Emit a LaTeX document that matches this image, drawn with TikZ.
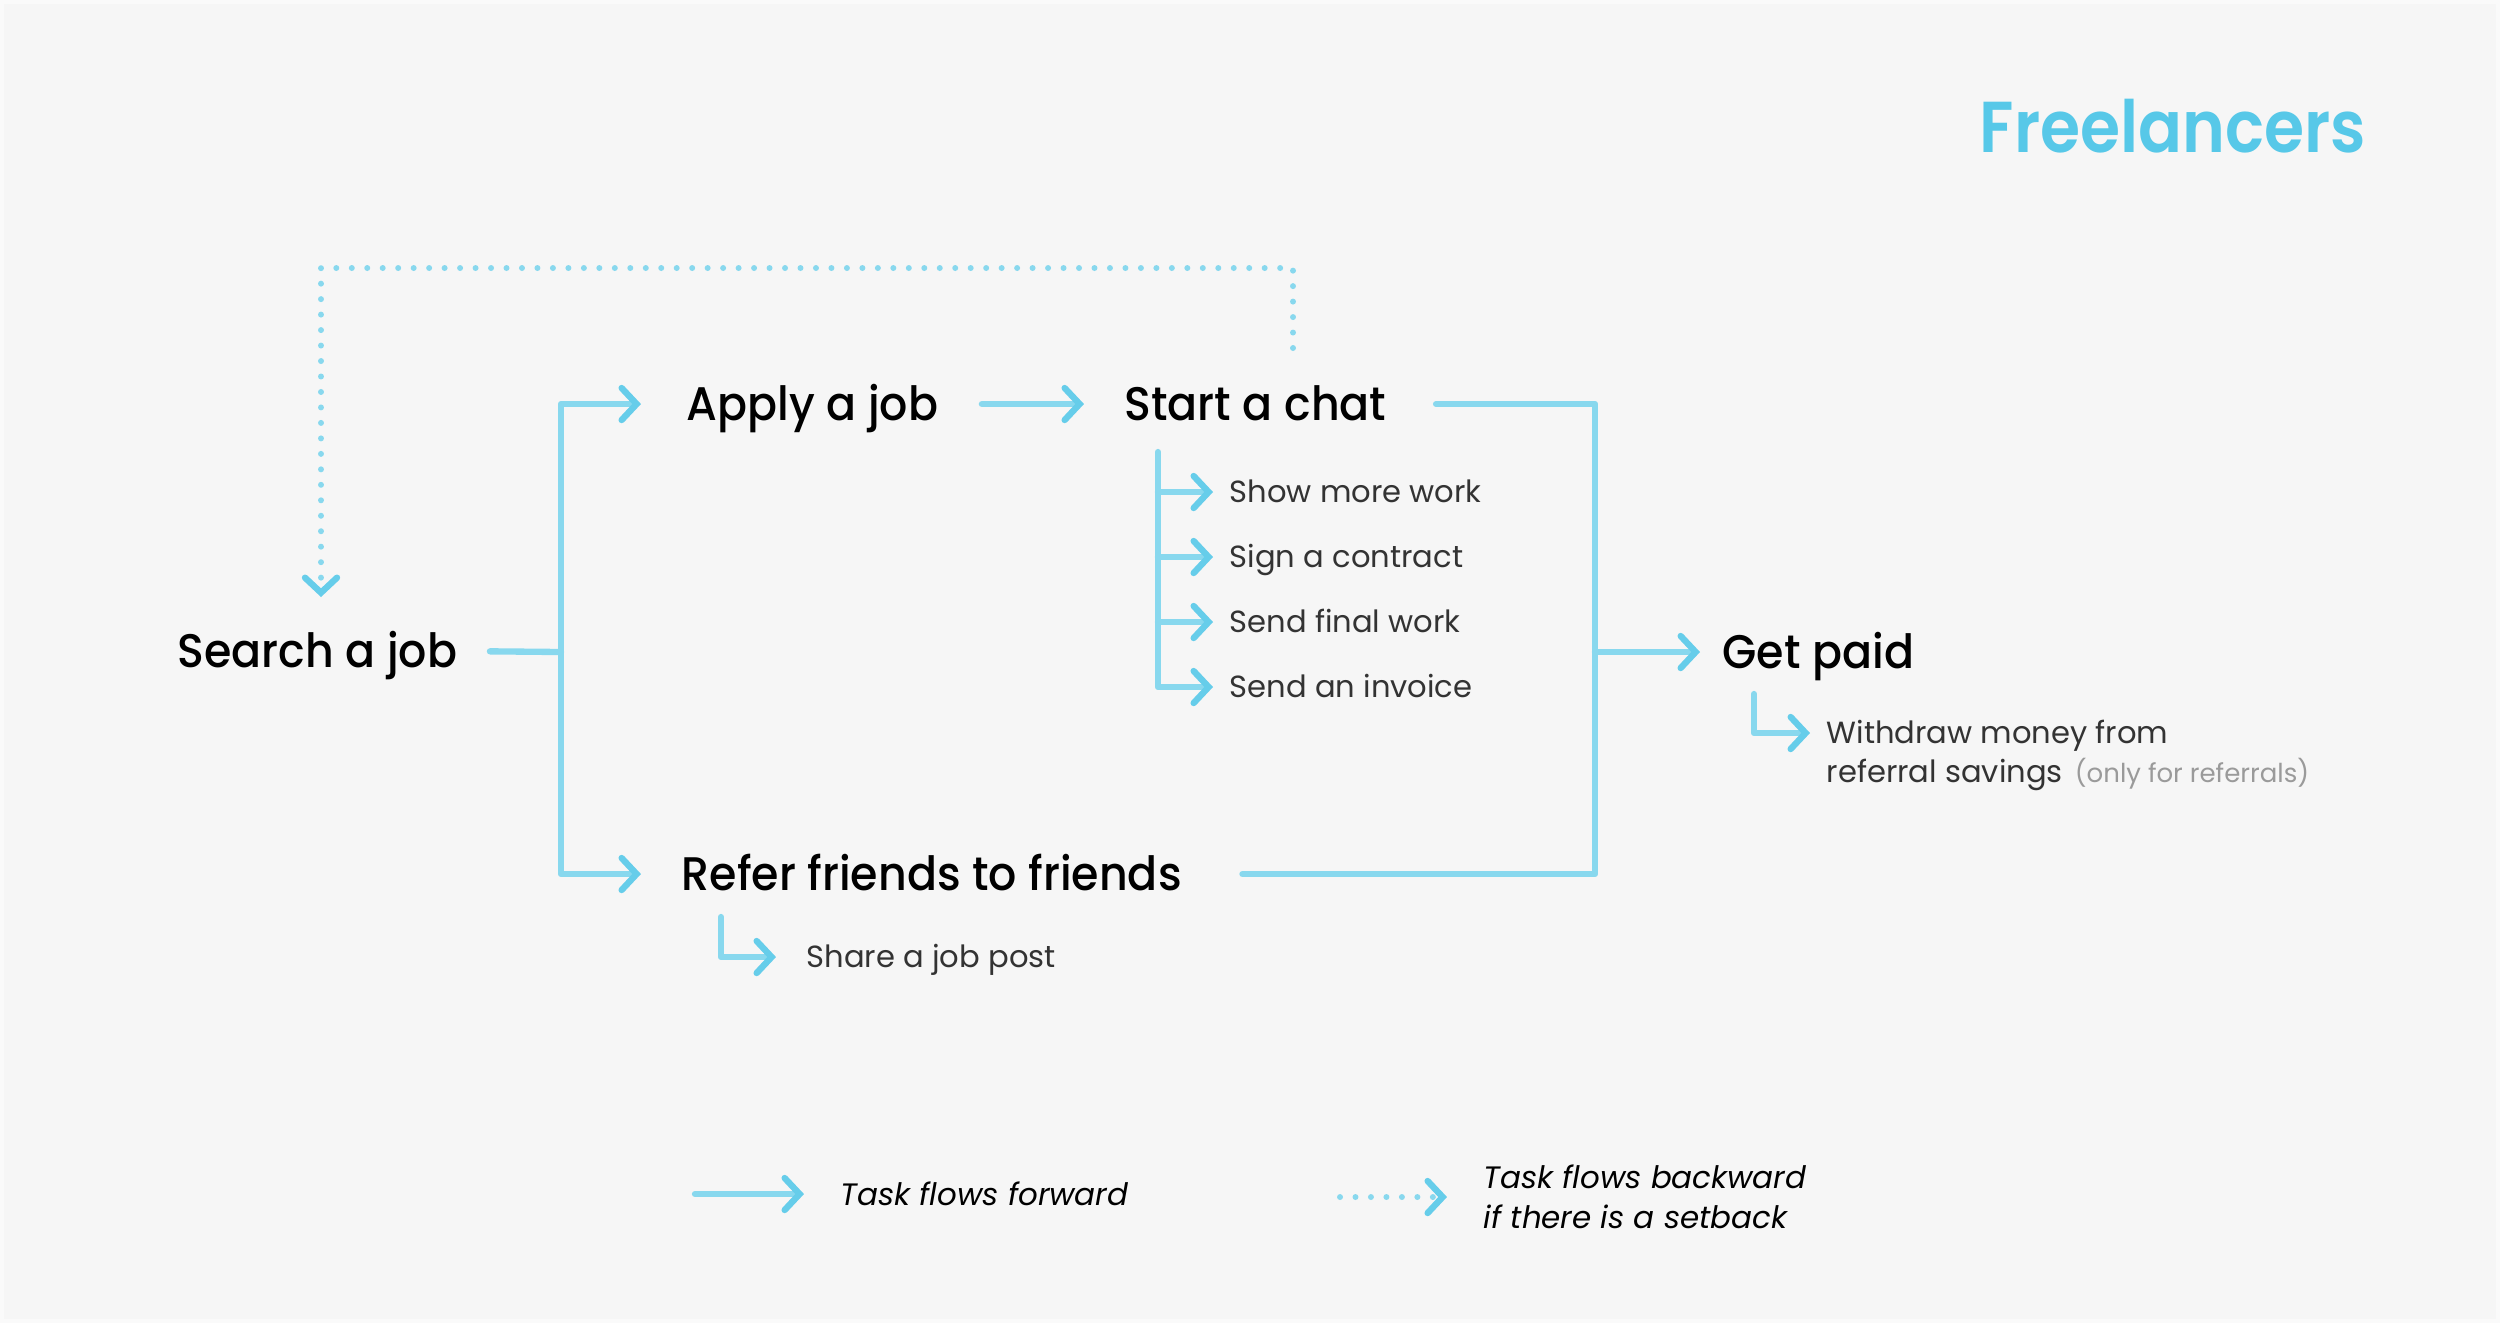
\documentclass[tikz,border=0pt]{standalone}
\usepackage{fontspec}
\setmainfont{Poppins}
\newfontfamily\stepfont{Poppins Medium}[FakeStretch=0.94]
\newfontfamily\titlefont{Poppins SemiBold}[FakeStretch=0.9]
\usetikzlibrary{arrows.meta,positioning,calc}
\definecolor{cBg}{HTML}{F6F6F6}
\definecolor{cEdge}{HTML}{FAFAFA}
\definecolor{cFlow}{HTML}{88D8EE}
\definecolor{cTip}{HTML}{66CDEA}
\definecolor{cTitle}{HTML}{57C8E8}
\definecolor{cSub}{HTML}{333333}
\definecolor{cNote}{HTML}{9A9A9A}

\begin{document}
\begin{tikzpicture}[
    x=0.01cm, y=-0.01cm,
    main/.style={font=\stepfont\fontsize{13.4}{16}\selectfont, anchor=west, inner sep=0, text height=9.4pt, text depth=0pt},
    sub/.style={font=\fontsize{8.7}{12}\selectfont, text=cSub, anchor=west, inner sep=0, text height=6.2pt, text depth=0pt},
    legend/.style={font=\fontsize{8.8}{11.3}\selectfont\itshape, anchor=west, inner sep=0, align=left},
    wire/.style={line width=1.8pt, draw=cFlow, line cap=round, line join=round},
    flow/.style={wire, -{Straight Barb[length=1.5mm, width=3.2mm, line width=1.8pt, line cap=round, color=cTip]}},
    back/.style={flow, line width=1.7pt, dash pattern=on 0pt off 4.4pt}
]
\fill[cBg] (0,0) rectangle (2500,1323);
\draw[cEdge, line width=1pt] (2,2) rectangle (2498,1321);

\node[font=\titlefont\fontsize{20.5}{24}\selectfont, text=cTitle, anchor=base, inner sep=0] (title) at (2173,152) {Freelancers};

% main steps
\node[main] (search) at (177,651) {Search a job};
\node[main] (apply) at (686,404) {Apply a job};
\node[main] (chat) at (1124,404) {Start a chat};
\node[main] (refer) at (681,874) {Refer friends to friends};
\node[main] (paid) at (1722,652) {Get paid};

% sub steps
\node[sub] (more) at (1229,492) {Show more work};
\node[sub] (contract) at (1229,557) {Sign a contract};
\node[sub] (final) at (1229,622) {Send final work};
\node[sub] (invoice) at (1229,687) {Send an invoice};
\node[sub] (share) at (806,957) {Share a job post};
\node[sub] (withdraw) at (1826,733) {Withdraw money from};
\node[sub] (savings) at (1826,772) {referral savings\hspace{1.2mm}{\fontsize{7.4}{9}\selectfont\color{cNote}(only for referrals)}};

\coordinate (fork) at (561,652);
\coordinate (merge) at (1595,652);
\coordinate (chatRail) at (1158,452);
\coordinate (referRail) at (721,917);
\coordinate (paidRail) at (1754,694);

\draw[wire, shorten <=3.2mm] (search.east) -- (fork);
\draw[flow, shorten >=4.5mm] (fork) |- (apply.west);
\draw[flow, shorten >=4mm] (fork) |- (refer.west);
\draw[flow, shorten <=4.3mm, shorten >=4mm] (apply.east) -- (chat.west);
\draw[wire, shorten <=4.9mm] (chat.east) -| (merge);
\draw[wire, shorten <=6mm] (refer.east) -| (merge);
\draw[flow, shorten >=2.2mm] (merge) -- (paid.west);

\draw[flow, shorten >=1.6mm] (chatRail) |- (invoice.west);
\foreach \item in {more,contract,final}
  \draw[flow, shorten >=1.6mm] (chatRail |- \item.west) -- (\item.west);
\draw[flow, shorten >=3mm] (referRail) |- (share.west);
\draw[flow, shorten >=1.6mm] (paidRail) |- (withdraw.west);

% setback loop
\coordinate (backStart) at (1293,348);
\coordinate (backTop) at (321,268);
\coordinate (backEnd) at (321,597);
\draw[back] (backStart) -- (backStart |- backTop) -| (backEnd);

% legend
\node[legend] (fwdText) at (840,1194) {Task flows forward};
\node[legend] (backText) at (1483,1197) {Task flows backward\\if there is a setback};
\coordinate (fwdStart) at (695,1194);
\coordinate (backLegStart) at (1340,1197);
\draw[flow, shorten >=3.6mm] (fwdStart) -- (fwdText.west);
\draw[back, shorten >=3.6mm] (backLegStart) -- (backLegStart -| backText.west);

\end{tikzpicture}
\end{document}
